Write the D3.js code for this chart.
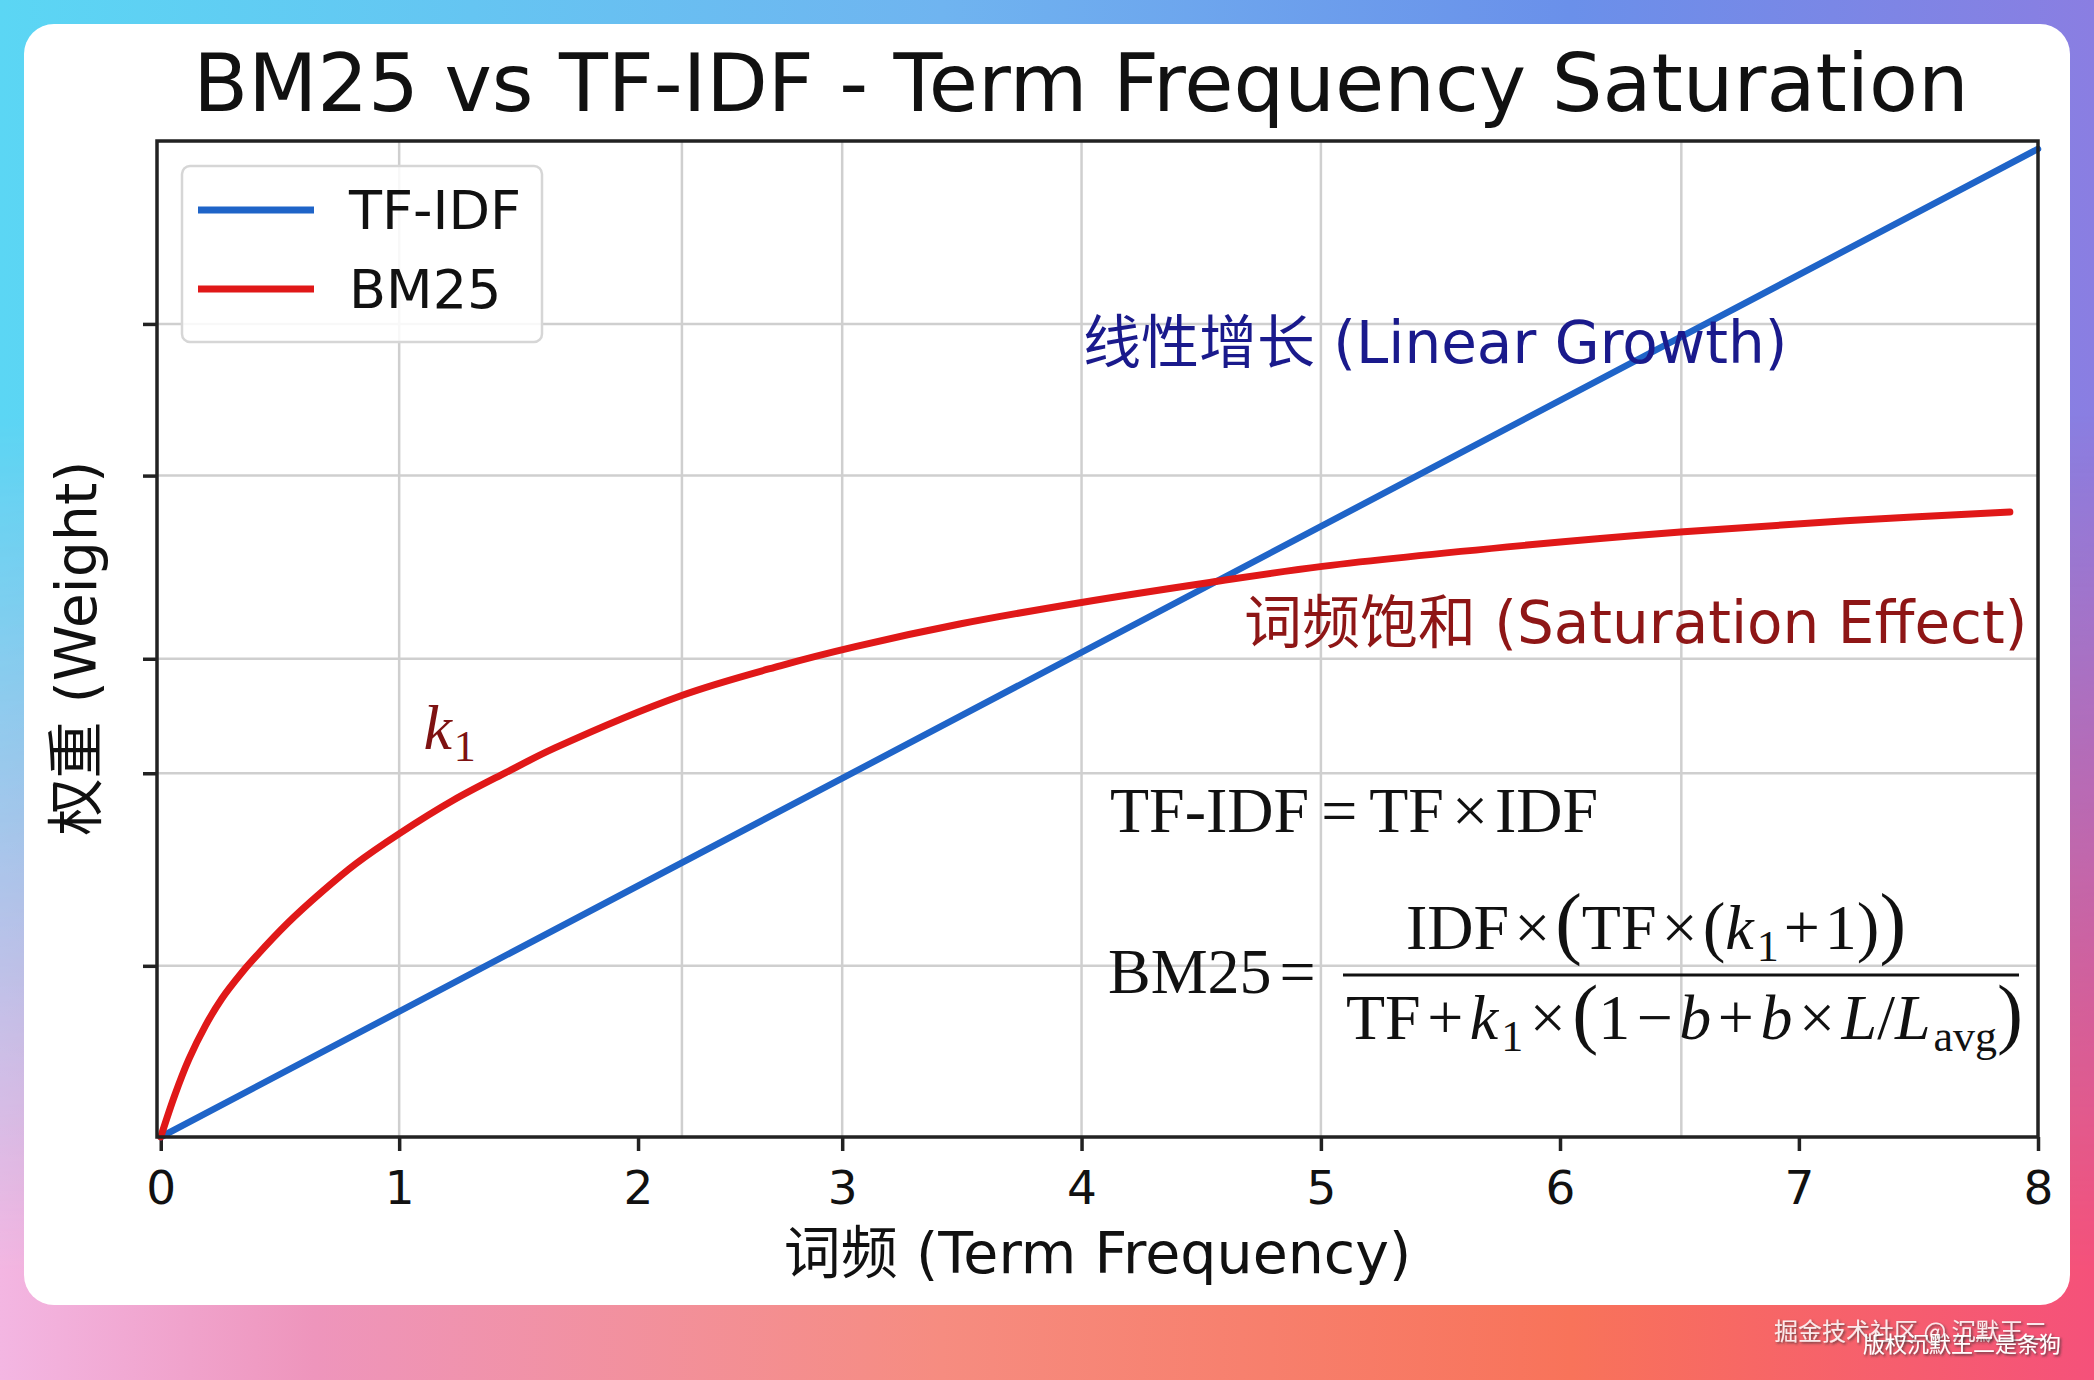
<!DOCTYPE html>
<html>
<head>
<meta charset="utf-8">
<script src="https://cdn.jsdelivr.net/npm/d3@7"></script>
<style>
  html, body { margin: 0; padding: 0; background: #fff; }
  svg { display: block; }
</style>
</head>
<body>
<div id="chart"></div>
<script>
// values
var tfidfX = [0, 8];
var tfidfY = [0, 8];

var bm25X = [0, 0.06, 0.12, 0.19, 0.26, 0.345, 0.40, 0.54, 0.69, 0.83, 1.02, 1.25, 1.47, 1.68, 2.22, 2.64, 2.96, 3.41, 3.93, 4.47, 4.95, 5.81, 6.49, 7.18, 7.88];
var bm25Y = [0, 0.34, 0.63, 0.90, 1.12, 1.33, 1.45, 1.73, 1.99, 2.21, 2.46, 2.73, 2.95, 3.15, 3.575, 3.815, 3.97, 4.155, 4.33, 4.49, 4.62, 4.79, 4.90, 4.99, 5.06];

// tick marks and grid sit where the picture has them (not evenly spaced)
var xTickAt = [0, 1.016, 2.034, 2.904, 3.924, 4.944, 5.963, 6.981, 8];
var xTickLabels = ['0', '1', '2', '3', '4', '5', '6', '7', '8'];
var xGridAt = [1.016, 2.221, 2.904, 3.924, 4.944, 6.48];
var yTickAt = [1.386, 2.945, 3.872, 5.355, 6.583];

var seriesNames = ['TF-IDF', 'BM25'];

var width = 2094,
    height = 1380,
    margin = {top: 141, right: 56, bottom: 243, left: 157};

var color = {'TF-IDF': '#1f64c8', 'BM25': '#e01818'};
var latin = "'DejaVu Sans', 'Noto Sans CJK SC', sans-serif";
var serif = "'Liberation Serif', 'DejaVu Serif', serif";

var svg = d3.select('#chart').append('svg')
  .attr('width', width)
  .attr('height', height);

// background gradients
var defs = svg.append('defs');
var gTop = defs.append('linearGradient').attr('id', 'gTop');
[['0%', '#5bd6f4'], ['45%', '#6fb4f0'], ['75%', '#6a90ea'], ['100%', '#8a7ee2']].forEach(function(s) {
  gTop.append('stop').attr('offset', s[0]).attr('stop-color', s[1]);
});
var gBot = defs.append('linearGradient').attr('id', 'gBot');
[['0%', '#f3b6e2'], ['15%', '#ee95bc'], ['45%', '#f68c80'], ['75%', '#f8735a'], ['100%', '#f5517a']].forEach(function(s) {
  gBot.append('stop').attr('offset', s[0]).attr('stop-color', s[1]);
});
var gFade = defs.append('linearGradient').attr('id', 'gFade')
  .attr('x1', 0).attr('y1', 0).attr('x2', 0).attr('y2', 1);
[['0%', 0], ['30%', 0], ['92%', 1], ['100%', 1]].forEach(function(s) {
  gFade.append('stop').attr('offset', s[0]).attr('stop-color', '#fff').attr('stop-opacity', s[1]);
});
defs.append('mask').attr('id', 'mFade')
  .append('rect').attr('width', width).attr('height', height).attr('fill', 'url(#gFade)');
var shadow = defs.append('filter').attr('id', 'wmShadow');
shadow.append('feDropShadow').attr('dx', 1.5).attr('dy', 1.5).attr('stdDeviation', 1)
  .attr('flood-color', '#333').attr('flood-opacity', 0.8);

svg.append('rect').attr('width', width).attr('height', height).attr('fill', 'url(#gTop)');
svg.append('rect').attr('width', width).attr('height', height).attr('fill', 'url(#gBot)').attr('mask', 'url(#mFade)');

// white card
svg.append('rect')
  .attr('x', 24).attr('y', 24)
  .attr('width', 2046).attr('height', 1281)
  .attr('rx', 30)
  .attr('fill', '#fff');

var x = d3.scaleLinear().domain([-0.016, 8]).range([margin.left, width - margin.right]);
var y = d3.scaleLinear().domain([0, 8.064]).range([height - margin.bottom, margin.top]);

var plot = svg.append('g');

// grid
plot.selectAll('.vgrid').data(xGridAt).enter().append('line')
  .attr('class', 'vgrid')
  .attr('x1', function(d) { return x(d); }).attr('x2', function(d) { return x(d); })
  .attr('y1', y.range()[0]).attr('y2', y.range()[1])
  .style('stroke', '#cfcfcf').style('stroke-width', 2.5);
plot.selectAll('.hgrid').data(yTickAt).enter().append('line')
  .attr('class', 'hgrid')
  .attr('x1', x.range()[0]).attr('x2', x.range()[1])
  .attr('y1', function(d) { return y(d); }).attr('y2', function(d) { return y(d); })
  .style('stroke', '#cfcfcf').style('stroke-width', 2.5);

// axes
var xAxis = d3.axisBottom(x)
  .tickValues(xTickAt)
  .tickFormat(function(d, i) { return xTickLabels[i]; })
  .tickSize(14)
  .tickPadding(20);
var gx = plot.append('g')
  .attr('transform', 'translate(0,' + y.range()[0] + ')')
  .call(xAxis);
gx.select('.domain').remove();
gx.selectAll('line').style('stroke', '#222').style('stroke-width', 3.5);
gx.selectAll('text').style('font-family', latin).style('font-size', '47px').style('fill', '#111');

var yAxis = d3.axisLeft(y).tickValues(yTickAt).tickFormat('').tickSize(14);
var gy = plot.append('g')
  .attr('transform', 'translate(' + x.range()[0] + ',0)')
  .call(yAxis);
gy.select('.domain').remove();
gy.selectAll('line').style('stroke', '#222').style('stroke-width', 3.5);

// lines
var line = d3.line()
  .x(function(d) { return x(d[0]); })
  .y(function(d) { return y(d[1]); })
  .curve(d3.curveCatmullRom.alpha(0.5));

var series = [
  {name: 'TF-IDF', values: d3.zip(tfidfX, tfidfY), w: 6.5},
  {name: 'BM25', values: d3.zip(bm25X, bm25Y), w: 7}
];
plot.selectAll('.series').data(series).enter().append('path')
  .attr('class', 'series')
  .attr('d', function(d) { return line(d.values); })
  .style('fill', 'none')
  .style('stroke', function(d) { return color[d.name]; })
  .style('stroke-width', function(d) { return d.w; })
  .style('stroke-linecap', 'round');

// frame
plot.append('rect')
  .attr('x', x.range()[0]).attr('y', y.range()[1])
  .attr('width', x.range()[1] - x.range()[0])
  .attr('height', y.range()[0] - y.range()[1])
  .style('fill', 'none').style('stroke', '#222').style('stroke-width', 3.5);

// annotations
var notes = [
  {text: '线性增长 (Linear Growth)', x: 3.93, y: 6.27, fill: '#1a1a8c'},
  {text: '词频饱和 (Saturation Effect)', x: 4.616, y: 4.0, fill: '#8e1616'}
];
plot.selectAll('.note').data(notes).enter().append('text')
  .attr('class', 'note')
  .attr('x', function(d) { return x(d.x); })
  .attr('y', function(d) { return y(d.y); })
  .text(function(d) { return d.text; })
  .style('font-family', latin).style('font-size', '58px')
  .style('fill', function(d) { return d.fill; });

var k1 = plot.append('text')
  .attr('x', x(1.231)).attr('y', y(3.14))
  .attr('text-anchor', 'middle')
  .style('font-family', serif).style('font-size', '64px').style('fill', '#7e1212');
k1.append('tspan').style('font-style', 'italic').text('k');
k1.append('tspan').attr('dx', 2).attr('dy', 12).style('font-size', '44px').text('1');

// formulas
var fm = plot.append('g').style('font-family', serif).style('fill', '#111');
var f1 = fm.append('text').attr('x', 1110).attr('y', 832).style('font-size', '64px');
f1.append('tspan').text('TF-IDF');
f1.append('tspan').attr('dx', 12).text('=');
f1.append('tspan').attr('dx', 12).text('TF');
f1.append('tspan').attr('dx', 8).text('×');
f1.append('tspan').attr('dx', 7).text('IDF');

var f2 = fm.append('text').attr('x', 1108).attr('y', 993).style('font-size', '64px');
f2.append('tspan').text('BM25');
f2.append('tspan').attr('dx', 8).text('=');
fm.append('line')
  .attr('x1', 1343).attr('x2', 2019).attr('y1', 975).attr('y2', 975)
  .style('stroke', '#111').style('stroke-width', 3);

// writes a run of tspans; op pieces get a gap on both sides
function piece(t, parts, gap) {
  var pad = 0;
  parts.forEach(function(p) {
    var s = t.append('tspan').text(p.t);
    var dx = pad + (p.op ? gap : 0) + (p.sub ? 3 : 0);
    pad = p.op ? gap : 0;
    if (dx) s.attr('dx', dx);
    if (p.it) s.style('font-style', 'italic');
    if (p.size) s.style('font-size', p.size + 'px');
    if (p.sub) s.attr('dy', 12).style('font-size', '44px');
    if (p.back) s.attr('dy', -12);
  });
}

var num = fm.append('text').attr('x', 1406).attr('y', 949).style('font-size', '64px');
piece(num, [
  {t: 'IDF'}, {t: '×', op: true}, {t: '(', size: 80}, {t: 'TF'}, {t: '×', op: true}, {t: '(', size: 68},
  {t: 'k', it: true}, {t: '1', sub: true}, {t: '+', op: true, back: true}, {t: '1'},
  {t: ')', size: 68}, {t: ')', size: 80}
], 5);

var den = fm.append('text').attr('x', 1346).attr('y', 1039).style('font-size', '64px');
piece(den, [
  {t: 'TF'}, {t: '+', op: true}, {t: 'k', it: true}, {t: '1', sub: true}, {t: '×', op: true, back: true},
  {t: '(', size: 78}, {t: '1'}, {t: '−', op: true}, {t: 'b', it: true}, {t: '+', op: true}, {t: 'b', it: true},
  {t: '×', op: true}, {t: 'L', it: true}, {t: '/'}, {t: 'L', it: true},
  {t: 'avg', sub: true}, {t: ')', size: 78, back: true}
], 6.5);

// legend
var legend = svg.append('g').attr('class', 'legend');
legend.append('rect')
  .attr('x', 182).attr('y', 166)
  .attr('width', 360).attr('height', 176)
  .attr('rx', 8)
  .style('fill', '#fff').style('fill-opacity', 0.85)
  .style('stroke', '#d6d6d6').style('stroke-width', 2.5);
var item = legend.selectAll('.item').data(seriesNames).enter().append('g')
  .attr('class', 'item')
  .attr('transform', function(d, i) { return 'translate(198,' + (210 + i * 79) + ')'; });
item.append('line')
  .attr('x1', 0).attr('x2', 116)
  .style('stroke', function(d) { return color[d]; })
  .style('stroke-width', 7);
item.append('text')
  .attr('x', 151).attr('dy', '0.36em')
  .text(function(d) { return d; })
  .style('font-family', latin).style('font-size', '54px').style('fill', '#111');

// titles
svg.append('text')
  .attr('x', 1081).attr('y', 111)
  .attr('text-anchor', 'middle')
  .text('BM25 vs TF-IDF - Term Frequency Saturation')
  .style('font-family', latin).style('font-size', '80px').style('fill', '#111');

svg.append('text')
  .attr('x', (x.range()[0] + x.range()[1]) / 2).attr('y', 1273)
  .attr('text-anchor', 'middle')
  .text('词频 (Term Frequency)')
  .style('font-family', latin).style('font-size', '57px').style('fill', '#111');

svg.append('text')
  .attr('transform', 'translate(96,' + ((y.range()[0] + y.range()[1]) / 2 + 9) + ') rotate(-90)')
  .attr('text-anchor', 'middle')
  .text('权重 (Weight)')
  .style('font-family', latin).style('font-size', '57px').style('fill', '#111');

// watermark
svg.append('text')
  .attr('x', 1774).attr('y', 1340)
  .text('掘金技术社区 @ 沉默王二')
  .style('font-family', "'Noto Sans CJK SC', sans-serif").style('font-size', '24px')
  .style('fill', '#fff').style('fill-opacity', 0.85).attr('filter', 'url(#wmShadow)');
svg.append('text')
  .attr('x', 1863).attr('y', 1352)
  .text('版权沉默王二是条狗')
  .style('font-family', "'Noto Sans CJK SC', sans-serif").style('font-size', '22px')
  .style('fill', '#fff').attr('filter', 'url(#wmShadow)');
</script>
</body>
</html>
